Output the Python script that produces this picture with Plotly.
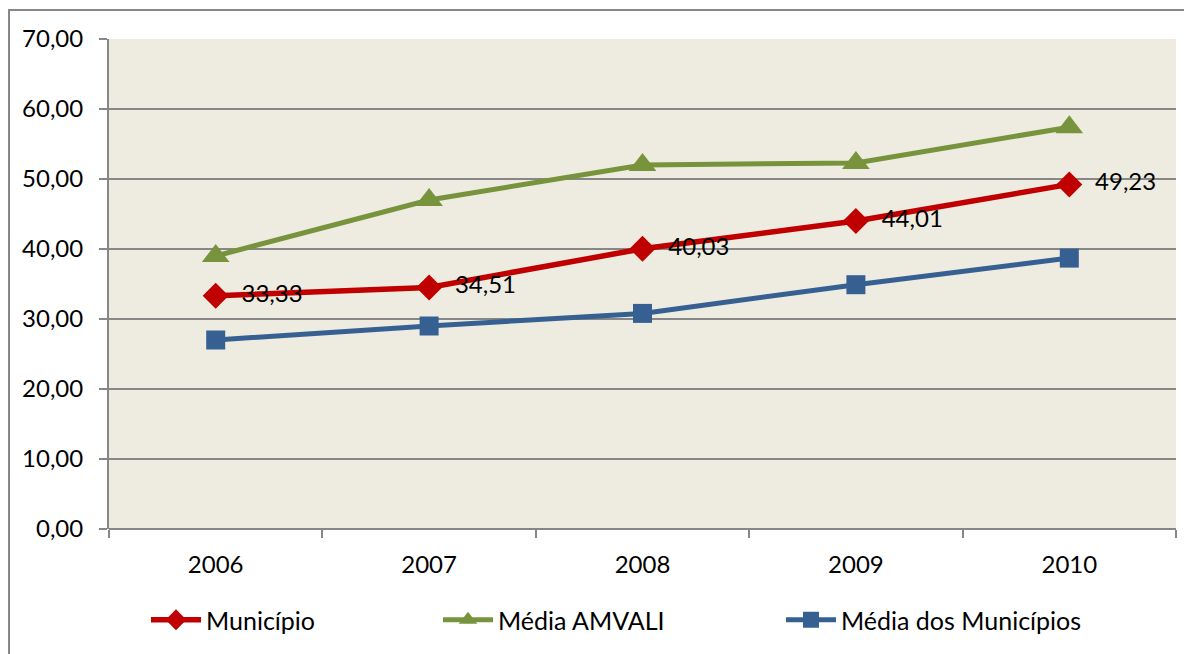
import plotly.graph_objects as go

years = ["2006", "2007", "2008", "2009", "2010"]
municipio = [33.33, 34.51, 40.03, 44.01, 49.23]
media_amvali = [39.0, 47.0, 52.0, 52.3, 57.4]
media_municipios = [27.0, 29.0, 30.8, 34.9, 38.7]
y_ticks = [0, 10, 20, 30, 40, 50, 60, 70]

RED = "#C00000"
GREEN = "#77933C"
BLUE = "#376092"
GRID = "#878787"
FONT = "Lato"

pad = "\u00a0\u00a0"
mun_labels = [pad + f"{v:.2f}".replace(".", ",") for v in municipio]

fig = go.Figure()
fig.add_trace(go.Scatter(
    x=years, y=municipio, name="Município", mode="lines+markers+text",
    text=mun_labels, textposition="middle right",
    textfont=dict(family=FONT, size=24, color="black"),
    line=dict(color=RED, width=5.5),
    marker=dict(symbol="diamond", size=20, color=RED),
    legend="legend", showlegend=True,
))
fig.add_trace(go.Scatter(
    x=years, y=media_amvali, name="Média AMVALI", mode="lines+markers",
    line=dict(color=GREEN, width=5),
    marker=dict(symbol="triangle-up", size=24, color=GREEN),
    legend="legend2", showlegend=True,
))
fig.add_trace(go.Scatter(
    x=years, y=media_municipios, name="Média dos Municípios", mode="lines+markers",
    line=dict(color=BLUE, width=5),
    marker=dict(symbol="square", size=19, color=BLUE),
    legend="legend3", showlegend=True,
))

# screen geometry (page body has an 8px offset)
OFF = 8
W, H = 1192, 654
L, R, T, B = 109, 16, 39, 125
pw = W - L - R
ph = H - T - B


def px(xpix):
    return (xpix - L) / pw


def py(ypix):
    return (H - B - ypix) / ph


fig.add_shape(
    type="rect", xref="paper", yref="paper",
    x0=px(9), x1=px(1200), y0=py(665), y1=py(10),
    line=dict(color=GRID, width=2), fillcolor="rgba(0,0,0,0)", layer="below",
)
fig.add_shape(type="line", xref="paper", yref="paper", x0=0, x1=1, y0=0, y1=0,
              line=dict(color=GRID, width=2))

leg_common = dict(orientation="h", yanchor="middle", xanchor="left", visible=True,
                  bgcolor="rgba(0,0,0,0)", font=dict(family=FONT, size=25, color="black"),
                  itemwidth=50)

fig.update_layout(
    width=W - OFF, height=H - OFF,
    margin=dict(l=L - OFF, r=R, t=T - OFF, b=B, autoexpand=False),
    showlegend=True,
    paper_bgcolor="white",
    plot_bgcolor="#EEECE1",
    separators=",.",
    font=dict(family=FONT, size=24, color="black"),
    legend=dict(x=px(146), y=py(620), **leg_common),
    legend2=dict(x=px(438), y=py(620), **leg_common),
    legend3=dict(x=px(781), y=py(620), **leg_common),
    xaxis=dict(
        type="category", range=[-0.5, 4.5],
        showgrid=False, showline=False, zeroline=False,
        ticks="outside", tickson="boundaries", ticklen=8, tickwidth=2, tickcolor=GRID,
        ticklabelstandoff=19,
        tickfont=dict(family=FONT, size=24, color="black"),
    ),
    yaxis=dict(
        range=[0, 70], tickvals=y_ticks, tickformat=".2f",
        showgrid=True, gridcolor=GRID, gridwidth=2,
        showline=True, linecolor=GRID, linewidth=2,
        zeroline=False,
        ticks="outside", ticklen=8, tickwidth=2, tickcolor=GRID,
        ticklabelstandoff=11,
        tickfont=dict(family=FONT, size=24, color="black"),
    ),
)

fig.write_html("out.html")
